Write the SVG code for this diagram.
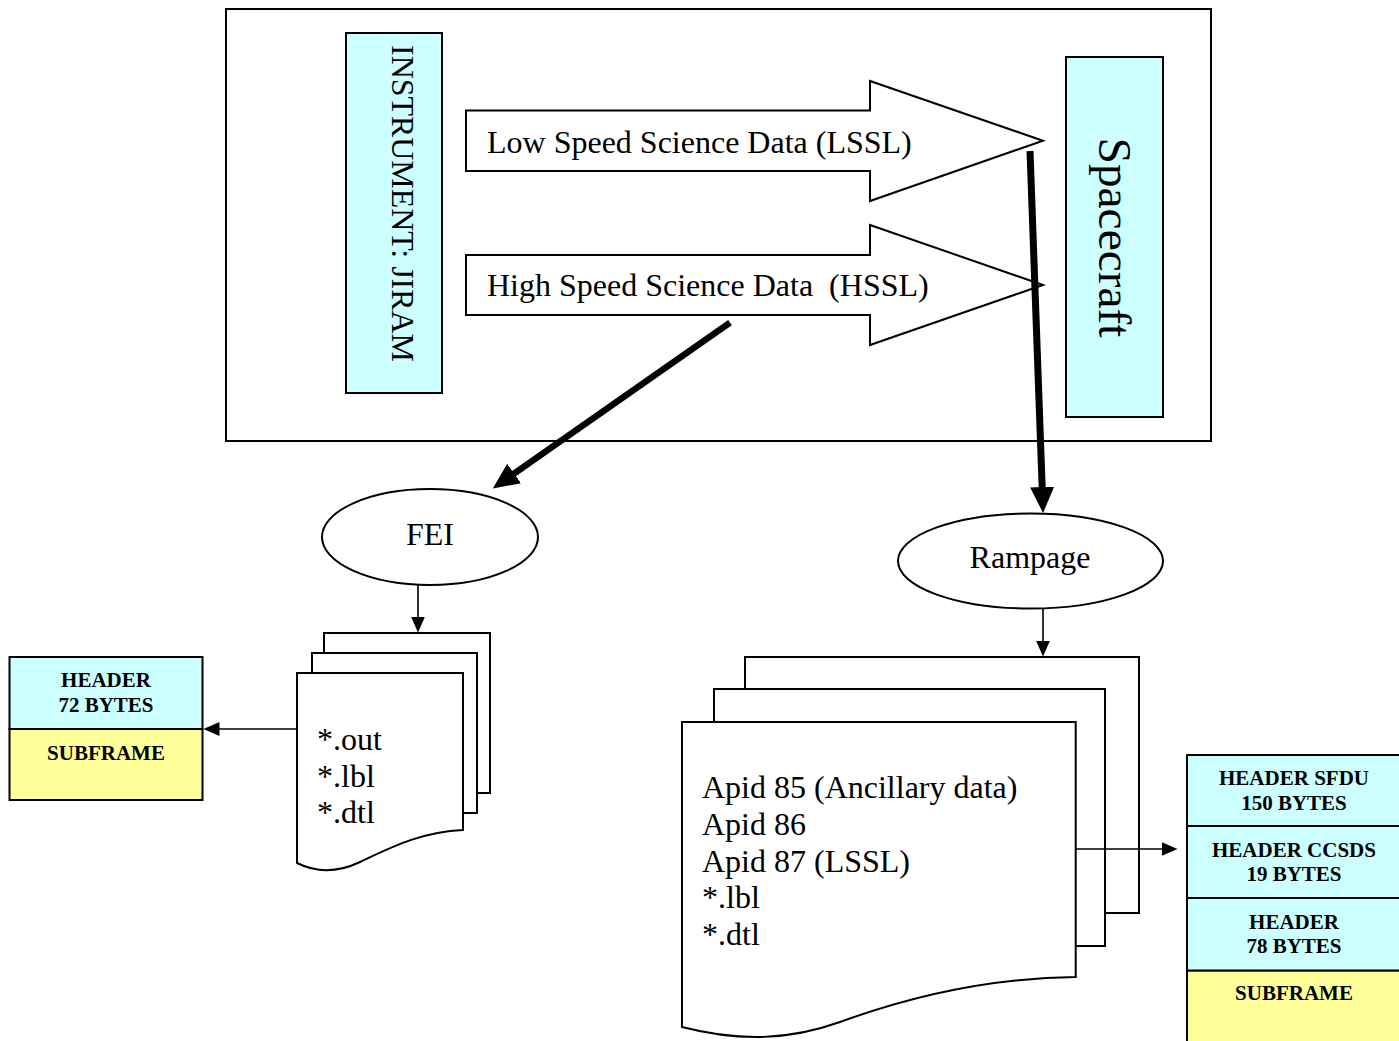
<svg xmlns="http://www.w3.org/2000/svg" width="1399" height="1041" viewBox="0 0 1399 1041">
<style>
  .ln { fill: none; stroke: #000; stroke-width: 2; }
  .box { stroke: #000; stroke-width: 2; }
  .cy { fill: #CCFFFF; }
  .ye { fill: #FFFF99; }
  .wh { fill: #FFFFFF; }
  .t { font-family: "Liberation Serif", "Times New Roman", serif; font-size: 32px; fill: #000; }
  .b { font-family: "Liberation Serif", "Times New Roman", serif; font-size: 21px; font-weight: bold; fill: #000; text-anchor: middle; }
  .thin { fill: none; stroke: #000; stroke-width: 1.6; }
  .thick { fill: none; stroke: #000; }
</style>
<defs>
  <marker id="ah" markerUnits="userSpaceOnUse" viewBox="0 -7 16 14" markerWidth="16" markerHeight="14" refX="0.5" refY="0" orient="auto">
    <path d="M0,-7 L16,0 L0,7 Z" fill="#000"/>
  </marker>
  <marker id="ahb" markerUnits="userSpaceOnUse" viewBox="0 -12 26 24" markerWidth="26" markerHeight="24" refX="1" refY="0" orient="auto">
    <path d="M0,-12 L26,0 L0,12 Z" fill="#000"/>
  </marker>
</defs>
<rect id="frame" x="226" y="9" width="985" height="432" class="ln" fill="#fff"/>
<g id="instrument">
  <rect x="346" y="33" width="96" height="360" class="box cy"/>
  <text class="t" font-size="34" transform="translate(392,203.5) rotate(90)" text-anchor="middle" textLength="317" lengthAdjust="spacingAndGlyphs">INSTRUMENT: JIRAM</text>
</g>
<g id="spacecraft">
  <rect x="1066" y="57" width="97" height="360" class="box cy"/>
  <text class="t" style="font-size:46px" transform="translate(1099,237.5) rotate(90)" text-anchor="middle" textLength="200" lengthAdjust="spacingAndGlyphs">Spacecraft</text>
</g>
<g id="lssl">
  <polygon points="466,110.5 870,110.5 870,81 1043,140.7 870,201 870,171 466,171" class="box wh"/>
  <text class="t" x="487" y="153">Low Speed Science Data (LSSL)</text>
</g>
<g id="hssl">
  <polygon points="466,255 870,255 870,225 1043,285 870,345 870,315 466,315" class="box wh"/>
  <text class="t" x="487" y="296" xml:space="preserve">High Speed Science Data  (HSSL)</text>
</g>
<g id="fei">
  <ellipse cx="430" cy="537" rx="108" ry="48" class="box wh"/>
  <text class="t" x="430" y="545" text-anchor="middle">FEI</text>
</g>
<g id="rampage">
  <ellipse cx="1030.5" cy="561" rx="132.5" ry="47.5" class="box wh"/>
  <text class="t" x="1030" y="568" text-anchor="middle">Rampage</text>
</g>
<g id="fei-files">
  <rect x="324" y="633" width="166" height="160" class="box wh"/>
  <rect x="312" y="653" width="165" height="160" class="box wh"/>
  <path d="M297,673 H463 V830 C420,832 390,848 360,862 C335,874 315,872 297,863 Z" class="box wh"/>
  <text class="t" x="317" y="750">*.out</text>
  <text class="t" x="317" y="787">*.lbl</text>
  <text class="t" x="317" y="823">*.dtl</text>
</g>
<g id="rampage-files">
  <rect x="745" y="657" width="394" height="256" class="box wh"/>
  <rect x="714" y="689" width="391" height="257" class="box wh"/>
  <path d="M682,722 H1075.7 V977 C980,978 900,1000 840,1022 C790,1040 740,1042 682,1027 Z" class="box wh"/>
  <text class="t" x="702" y="798">Apid 85 (Ancillary data)</text>
  <text class="t" x="702" y="835">Apid 86</text>
  <text class="t" x="702" y="872">Apid 87 (LSSL)</text>
  <text class="t" x="702" y="908">*.lbl</text>
  <text class="t" x="702" y="945">*.dtl</text>
</g>
<g id="fei-frame">
  <rect x="9.5" y="657" width="193" height="72" class="box cy"/>
  <rect x="9.5" y="729" width="193" height="71" class="box ye"/>
  <text class="b" x="106" y="687">HEADER</text>
  <text class="b" x="106" y="712">72 BYTES</text>
  <text class="b" x="106" y="760">SUBFRAME</text>
</g>
<g id="rampage-frame">
  <rect x="1187" y="755" width="230" height="71" class="box cy"/>
  <rect x="1187" y="826" width="230" height="72" class="box cy"/>
  <rect x="1187" y="898" width="230" height="72.7" class="box cy"/>
  <rect x="1187" y="970.7" width="230" height="80" class="box ye"/>
  <text class="b" x="1294" y="785">HEADER SFDU</text>
  <text class="b" x="1294" y="810">150 BYTES</text>
  <text class="b" x="1294" y="857">HEADER CCSDS</text>
  <text class="b" x="1294" y="881">19 BYTES</text>
  <text class="b" x="1294" y="929">HEADER</text>
  <text class="b" x="1294" y="953">78 BYTES</text>
  <text class="b" x="1294" y="1000">SUBFRAME</text>
</g>
<g id="connectors">
  <path d="M730,322.7 L513.3,474.1" class="thick" stroke-width="6.5" marker-end="url(#ahb)"/>
  <path d="M1030,151 L1042.2,488" class="thick" stroke-width="7" marker-end="url(#ahb)"/>
  <path d="M418,585 L418,617" class="thin" marker-end="url(#ah)"/>
  <path d="M1043,609 L1043,641" class="thin" marker-end="url(#ah)"/>
  <path d="M297,729 L219,729" class="thin" marker-end="url(#ah)"/>
  <path d="M1075.7,849 L1162,849" class="thin" marker-end="url(#ah)"/>
</g>
</svg>
